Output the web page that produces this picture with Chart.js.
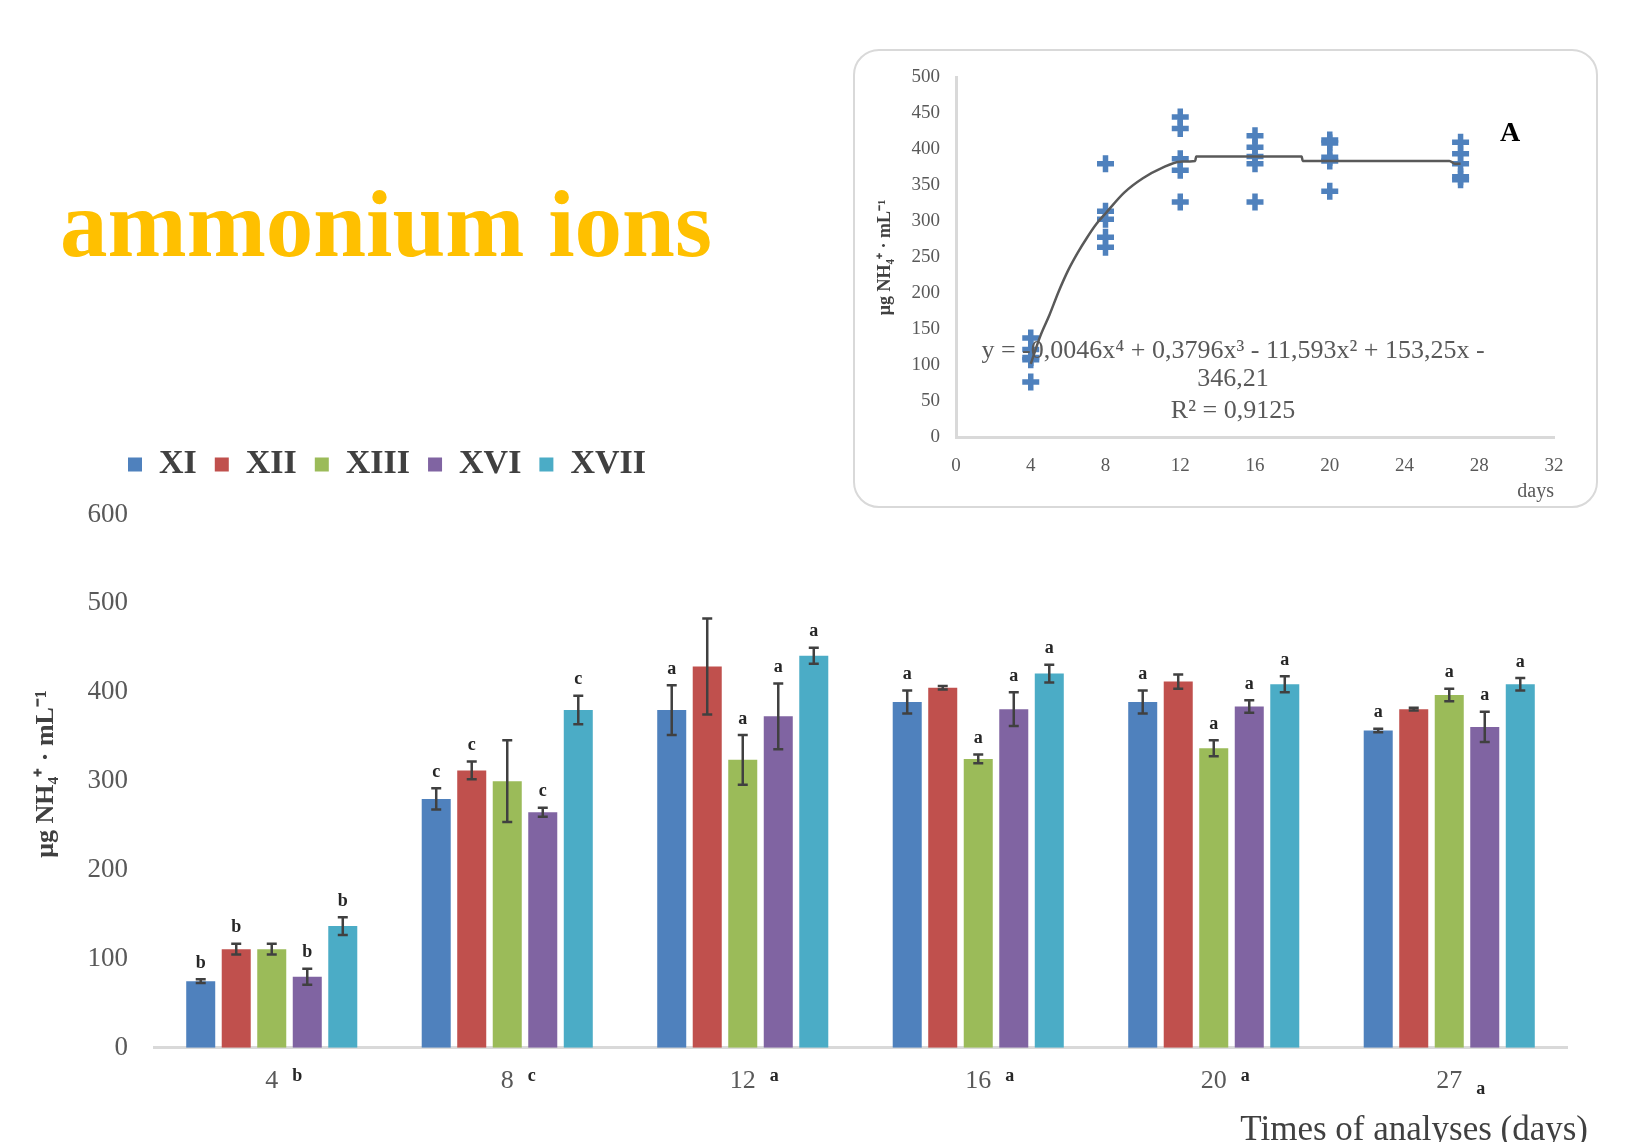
<!DOCTYPE html>
<html>
<head>
<meta charset="utf-8">
<script src="https://cdn.jsdelivr.net/npm/chart.js@4.4.1/dist/chart.umd.min.js"></script>
<style>
  html, body { margin: 0; padding: 0; background: #ffffff; width: 1633px; height: 1142px; overflow: hidden; }
  #mainCanvas { position: absolute; left: 0; top: 0; }
  #pageTitle { position: absolute; left: 60px; top: 177px; font: bold 95px 'Liberation Serif', 'Times New Roman', serif; color: #FFC000; line-height: 1; white-space: nowrap; }
  #insetBox { position: absolute; left: 853px; top: 49px; width: 741px; height: 455px; border: 2.5px solid #D9D9D9; border-radius: 26px; background: #ffffff; }
  #insetCanvas { position: absolute; left: 854px; top: 50px; }
</style>
</head>
<body>
<canvas id="mainCanvas" width="1633" height="1142"></canvas>
<div id="pageTitle">ammonium ions</div>
<div id="insetBox"></div>
<canvas id="insetCanvas" width="743" height="457"></canvas>
<script>
// ---------------- main bar chart data ----------------
const days = ['4', '8', '12', '16', '20', '27'];
const seriesNames = ['XI', 'XII', 'XIII', 'XVI', 'XVII'];
const valuesXI   = [75, 280, 380, 389, 389, 357];
const valuesXII  = [111, 312, 429, 405, 412, 381];
const valuesXIII = [111, 300, 324, 325, 337, 397];
const valuesXVI  = [80, 265, 373, 381, 384, 361];
const valuesXVII = [137, 380, 441, 421, 409, 409];
const errorsXI   = [2, 12, 28, 13, 13, 2];
const errorsXII  = [6, 10, 54, 2, 8, 1.5];
const errorsXIII = [6, 46, 28, 5, 9, 7];
const errorsXVI  = [9, 5, 37, 19, 7, 17];
const errorsXVII = [10, 16, 9, 10, 9, 7];
const lettersXI   = ['b', 'c', 'a', 'a', 'a', 'a'];
const lettersXII  = ['b', 'c', null, null, null, null];
const lettersXIII = [null, null, 'a', 'a', 'a', 'a'];
const lettersXVI  = ['b', 'c', 'a', 'a', 'a', 'a'];
const lettersXVII = ['b', 'c', 'a', 'a', 'a', 'a'];
const dayLetters  = ['b', 'c', 'a', 'a', 'a', 'a'];
const yTicksMain = [0, 100, 200, 300, 400, 500, 600];

// ---------------- inset scatter data ----------------
const insetDays = [4, 8, 12, 16, 20, 27];
const insetDay4  = [138, 122, 111, 108, 77];
const insetDay8  = [380, 314, 303, 278, 264];
const insetDay12 = [445, 429, 387, 371, 327];
const insetDay16 = [419, 403, 390, 380, 327];
const insetDay20 = [413, 409, 389, 384, 342];
const insetDay27 = [410, 394, 380, 362, 358];
const trendX = [4, 4.5, 5, 5.5, 6, 6.5, 7, 7.5, 8, 9, 10, 11, 12, 12.8, 12.85, 18.5, 18.55, 26.4, 26.7, 27];
const trendY = [102, 140, 170, 203, 232, 256, 277, 296, 311, 340, 360, 374, 383, 384, 390, 390, 384, 384, 380, 380];
const equationLines = ['y = -0,0046x\u2074 + 0,3796x\u00b3 - 11,593x\u00b2 + 153,25x -', '346,21', 'R\u00b2 = 0,9125'];
const yTitleText = '\u03bcg NH\u2084\u207a \u00b7 mL\u207b\u00b9';

const SERIF = "'Liberation Serif', 'Times New Roman', serif";
Chart.defaults.font.family = SERIF;

const colors = ['#4F81BD', '#C0504D', '#9BBB59', '#8064A2', '#4BACC6'];
const allValues = [valuesXI, valuesXII, valuesXIII, valuesXVI, valuesXVII];
const allErrors = [errorsXI, errorsXII, errorsXIII, errorsXVI, errorsXVII];
const allLetters = [lettersXI, lettersXII, lettersXIII, lettersXVI, lettersXVII];

// width of the widest y tick label, used to right-align mirrored labels
const measureCtx = document.createElement('canvas').getContext('2d');
measureCtx.font = '27px ' + SERIF;
const widestY = Math.max(...yTicksMain.map(v => measureCtx.measureText(String(v)).width));

const mainDeco = {
  id: 'mainDeco',
  afterDatasetsDraw(chart) {
    const ctx = chart.ctx;
    const x = chart.scales.x, y = chart.scales.y;
    ctx.save();
    chart.data.datasets.forEach((ds, i) => {
      const meta = chart.getDatasetMeta(i);
      meta.data.forEach((bar, j) => {
        const v = ds.data[j], e = allErrors[i][j];
        const yt = y.getPixelForValue(v + e), yb = y.getPixelForValue(v - e);
        ctx.strokeStyle = '#404040';
        ctx.lineWidth = 2.5;
        ctx.beginPath();
        ctx.moveTo(bar.x, yt); ctx.lineTo(bar.x, yb);
        ctx.moveTo(bar.x - 5, yt); ctx.lineTo(bar.x + 5, yt);
        ctx.moveTo(bar.x - 5, yb); ctx.lineTo(bar.x + 5, yb);
        ctx.stroke();
        const L = allLetters[i][j];
        if (L) {
          ctx.fillStyle = '#262626';
          ctx.font = 'bold 18px ' + SERIF;
          ctx.textAlign = 'center';
          ctx.textBaseline = 'middle';
          ctx.fillText(L, bar.x, yt - 16);
        }
      });
    });
    // group letters beside the day labels (the last one sits lower, as in the original)
    ctx.font = '26px ' + SERIF;
    const halfW = days.map(d => ctx.measureText(d).width / 2);
    ctx.font = 'bold 18px ' + SERIF;
    ctx.fillStyle = '#262626';
    ctx.textAlign = 'left';
    ctx.textBaseline = 'alphabetic';
    const lastIdx = dayLetters.length - 1;
    dayLetters.forEach((L, i) => {
      const px = x.getPixelForTick(i);
      ctx.fillText(L, px + halfW[i] + 14, i === lastIdx ? 1094 : 1081);
    });
    // axis titles
    ctx.fillStyle = '#404040';
    ctx.font = '35px ' + SERIF;
    ctx.textAlign = 'right';
    ctx.textBaseline = 'alphabetic';
    ctx.fillText('Times of analyses (days)', 1588, 1140);
    ctx.save();
    ctx.translate(46, 774);
    ctx.rotate(-Math.PI / 2);
    ctx.font = 'bold 26px ' + SERIF;
    ctx.textAlign = 'center';
    ctx.textBaseline = 'middle';
    ctx.fillText(yTitleText, 0, 0);
    ctx.restore();
    ctx.restore();
  }
};

new Chart(document.getElementById('mainCanvas'), {
  type: 'bar',
  data: {
    labels: days,
    datasets: seriesNames.map((name, i) => ({
      label: name,
      data: allValues[i],
      backgroundColor: colors[i],
      borderWidth: 0,
      categoryPercentage: 0.754,
      barPercentage: 0.817
    }))
  },
  options: {
    responsive: false,
    animation: false,
    layout: { padding: { left: 110, top: 429.5, right: 66, bottom: 0 } },
    plugins: {
      legend: {
        display: true,
        position: 'top',
        align: 'start',
        labels: {
          boxWidth: 14, boxHeight: 14, padding: 18,
          color: '#404040',
          font: { family: SERIF, size: 34, weight: 'bold' }
        }
      },
      title: {
        display: true, text: '', position: 'top', weight: 500,
        padding: { top: 0, bottom: 0 },
        font: { size: 10, lineHeight: 2.3 }
      },
      tooltip: { enabled: false }
    },
    scales: {
      x: {
        grid: { display: false, drawTicks: false },
        border: { display: true, color: '#D9D9D9', width: 3 },
        ticks: { color: '#595959', font: { family: SERIF, size: 26 }, padding: 18 },
        afterFit(s) { s.height = 94.2; }
      },
      y: {
        min: 0, max: 600,
        grid: { display: false, drawTicks: false },
        border: { display: false },
        afterBuildTicks(s) { s.ticks = yTicksMain.map(v => ({ value: v })); },
        ticks: {
          color: '#595959', font: { family: SERIF, size: 27 },
          mirror: true, crossAlign: 'far', padding: -(26 + widestY)
        },
        afterFit(s) { s.width = 44; }
      }
    }
  },
  plugins: [mainDeco]
});

// ---------------- inset chart ----------------
const insetGroups = [insetDay4, insetDay8, insetDay12, insetDay16, insetDay20, insetDay27];
const insetPoints = [];
insetGroups.forEach((vals, i) => vals.forEach(v => insetPoints.push({ x: insetDays[i], y: v })));
const trendPoints = trendX.map((xv, i) => ({ x: xv, y: trendY[i] }));

const insetDeco = {
  id: 'insetDeco',
  afterDraw(chart) {
    const ctx = chart.ctx;
    ctx.save();
    ctx.fillStyle = '#595959';
    ctx.font = '26px ' + SERIF;
    ctx.textAlign = 'center';
    ctx.textBaseline = 'middle';
    const ys = [301, 329, 361];
    equationLines.forEach((t, i) => ctx.fillText(t, 379, ys[i]));
    ctx.fillStyle = '#000000';
    ctx.font = 'bold 28px ' + SERIF;
    ctx.fillText('A', 656, 84);
    ctx.restore();
  }
};

new Chart(document.getElementById('insetCanvas'), {
  type: 'scatter',
  data: {
    datasets: [
      {
        type: 'line',
        label: 'trend',
        data: trendPoints,
        borderColor: '#595959',
        borderWidth: 2.5,
        pointRadius: 0,
        cubicInterpolationMode: 'monotone',
        fill: false,
        order: 0
      },
      {
        type: 'scatter',
        label: 'points',
        data: insetPoints,
        pointStyle: 'cross',
        pointRadius: 8.5,
        borderWidth: 5.5,
        borderColor: '#4F81BD',
        backgroundColor: '#4F81BD',
        order: 1
      }
    ]
  },
  options: {
    responsive: false,
    animation: false,
    layout: { padding: { left: 0, top: 22.9, right: 43, bottom: 0 } },
    plugins: { legend: { display: false }, tooltip: { enabled: false } },
    scales: {
      x: {
        type: 'linear', min: 0, max: 32,
        grid: { display: false, drawTicks: false },
        border: { display: true, color: '#D9D9D9', width: 3 },
        ticks: { stepSize: 4, color: '#595959', font: { family: SERIF, size: 19 }, padding: 17 },
        title: { display: true, text: 'days', align: 'end', color: '#595959', font: { family: SERIF, size: 20 }, padding: { top: 0, bottom: 3.3 } },
        afterFit(s) { s.height = 69.6; }
      },
      y: {
        min: 0, max: 500,
        grid: { display: false, drawTicks: false },
        border: { display: true, color: '#D9D9D9', width: 3 },
        ticks: { stepSize: 50, color: '#595959', font: { family: SERIF, size: 19 }, padding: 16 },
        title: { display: true, text: yTitleText, color: '#404040', font: { family: SERIF, size: 18, weight: 'bold' }, padding: { top: 20.2, bottom: 0 } },
        afterFit(s) { s.width = 102; }
      }
    }
  },
  plugins: [insetDeco]
});
</script>
</body>
</html>
